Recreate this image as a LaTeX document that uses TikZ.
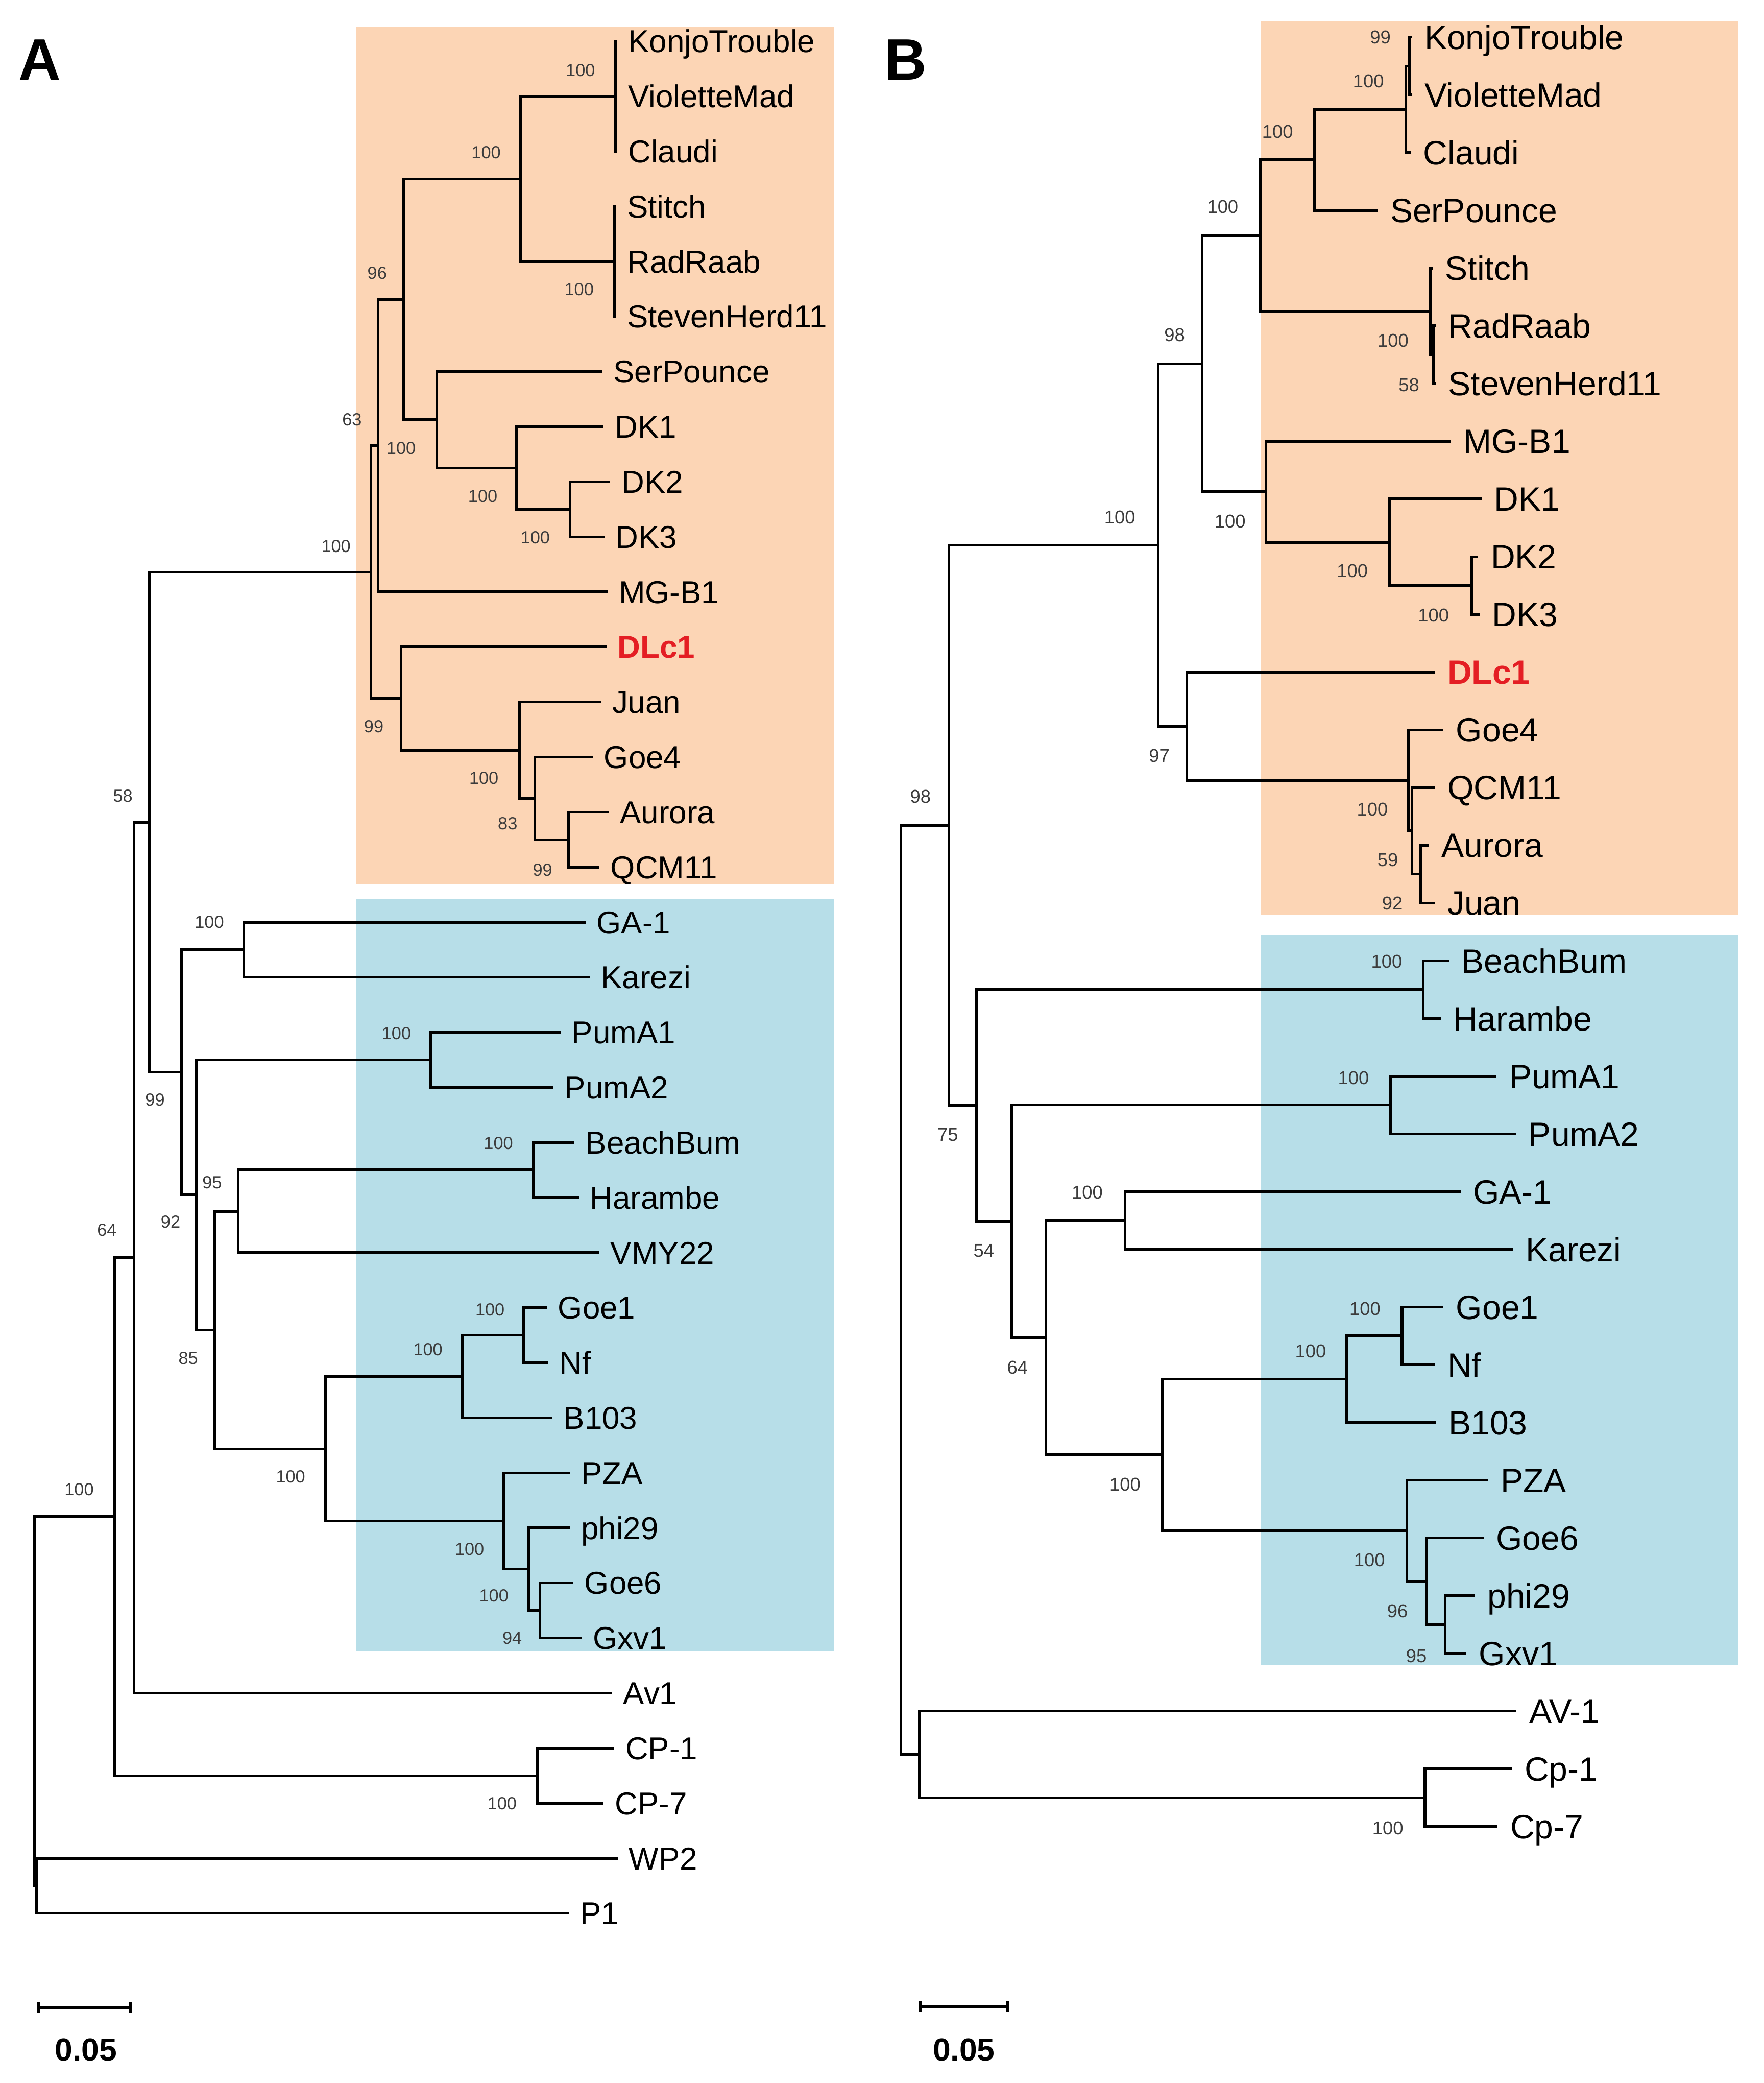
\documentclass[tikz,border=0pt]{standalone}
\usepackage{fontspec}
\setmainfont{Liberation Sans}
\usetikzlibrary{calc}
\definecolor{peach}{HTML}{FCD5B5}
\definecolor{aqua}{HTML}{B7DEE8}
\definecolor{dlred}{RGB}{228,30,36}
\definecolor{bsgray}{HTML}{3C3C3C}
\tikzset{
  br/.style={draw=black, line width=1pt, line cap=rect},
  leafA/.style={anchor=west, inner xsep=4.75pt, inner ysep=0pt, outer sep=0pt, text height=8.5pt, text depth=0pt, font=\fontsize{11.9}{12.5}\selectfont},
  leafB/.style={anchor=west, inner xsep=5.25pt, inner ysep=0pt, outer sep=0pt, text height=9.1pt, text depth=0pt, font=\fontsize{12.7}{13.5}\selectfont},
  hlA/.style={leafA, text=dlred, font=\fontsize{11.9}{12.5}\selectfont\bfseries},
  hlB/.style={leafB, text=dlred, font=\fontsize{12.7}{13.5}\selectfont\bfseries},
  bsA/.style={inner sep=0pt, text=bsgray, font=\fontsize{6.6}{7}\selectfont},
  bsB/.style={inner sep=0pt, text=bsgray, font=\fontsize{7}{8}\selectfont},
  panel/.style={inner sep=0pt, font=\fontsize{22}{24}\selectfont\bfseries},
  sclbl/.style={inner sep=0pt, font=\fontsize{12}{14}\selectfont\bfseries},
  tick/.style={draw=black, line width=1pt},
}
\begin{document}
\begin{tikzpicture}[x=0.5pt,y=-0.5pt]
\useasboundingbox (0,0) rectangle (1328,1568);
% background boxes
\fill[peach] (268,20) rectangle (628,665.5);
\fill[aqua] (268,677) rectangle (628,1243);
\fill[peach] (949,16) rectangle (1309,689);
\fill[aqua] (949,704) rectangle (1309,1253.5);
% panel letters
\node[panel] (pA) at (30,45) {A};
\node[panel] (pB) at (682,45) {B};

% ================= TREE A =================
% leaves
\node[leafA] (aLKonjo) at (463.5,31) {KonjoTrouble};
\node[leafA] (aLViol) at (463.5,72.45) {VioletteMad};
\node[leafA] (aLClaudi) at (463.5,113.9) {Claudi};
\node[leafA] (aLStitch) at (462.7,155.35) {Stitch};
\node[leafA] (aLRad) at (462.7,196.8) {RadRaab};
\node[leafA] (aLSteven) at (462.7,238.25) {StevenHerd11};
\node[leafA] (aLSer) at (452.3,279.7) {SerPounce};
\node[leafA] (aLDK1) at (453.5,321.15) {DK1};
\node[leafA] (aLDK2) at (458.5,362.6) {DK2};
\node[leafA] (aLDK3) at (454,404.05) {DK3};
\node[leafA] (aLMG) at (456.4,445.5) {MG-B1};
\node[hlA] (aLDLc1) at (455.6,486.95) {DLc1};
\node[leafA] (aLJuan) at (451.4,528.4) {Juan};
\node[leafA] (aLGoe4) at (445.2,569.85) {Goe4};
\node[leafA] (aLAurora) at (457.3,611.3) {Aurora};
\node[leafA] (aLQCM) at (450.2,652.75) {QCM11};
\node[leafA] (aLGA) at (439.8,694.2) {GA-1};
\node[leafA] (aLKarezi) at (443.1,735.65) {Karezi};
\node[leafA] (aLPumA1) at (421,777.1) {PumA1};
\node[leafA] (aLPumA2) at (415.6,818.55) {PumA2};
\node[leafA] (aLBeach) at (431.4,860) {BeachBum};
\node[leafA] (aLHar) at (434.8,901.45) {Harambe};
\node[leafA] (aLVMY) at (450.2,942.9) {VMY22};
\node[leafA] (aLGoe1) at (410.6,984.35) {Goe1};
\node[leafA] (aLNf) at (411.8,1025.8) {Nf};
\node[leafA] (aLB103) at (414.8,1067.25) {B103};
\node[leafA] (aLPZA) at (428.1,1108.7) {PZA};
\node[leafA] (aLphi) at (428.1,1150.15) {phi29};
\node[leafA] (aLGoe6) at (430.6,1191.6) {Goe6};
\node[leafA] (aLGxv) at (436.8,1233.05) {Gxv1};
\node[leafA] (aLAv1) at (459.8,1274.5) {Av1};
\node[leafA] (aLCP1) at (461.4,1315.95) {CP-1};
\node[leafA] (aLCP7) at (453.5,1357.4) {CP-7};
\node[leafA] (aLWP2) at (464,1398.85) {WP2};
\node[leafA] (aLP1) at (427.3,1440.3) {P1};
% internal nodes
\coordinate (aKVC) at (463.5,72.45);
\coordinate (aSRS) at (462.7,196.8);
\coordinate (aT) at (391.8,134.6);
\coordinate (aDK23) at (429.3,383.3);
\coordinate (aDK) at (388.9,352.2);
\coordinate (aSer) at (328.9,316.0);
\coordinate (a96) at (303.9,225.3);
\coordinate (a63) at (284.7,335.4);
\coordinate (aAQ) at (428.0,632.0);
\coordinate (a83) at (402.7,600.9);
\coordinate (aJ) at (391.0,564.7);
\coordinate (a99) at (301.8,525.8);
\coordinate (aO) at (279.3,430.6);
\coordinate (aGK) at (183.4,714.9);
\coordinate (aPum) at (324.3,797.8);
\coordinate (aBH) at (401.4,880.7);
\coordinate (a95) at (179.2,911.8);
\coordinate (aGN) at (394.3,1005.1);
\coordinate (aGNB) at (348.0,1036.2);
\coordinate (aGG) at (406.4,1212.3);
\coordinate (aPG) at (398.0,1181.2);
\coordinate (aPZ) at (379.3,1145.0);
\coordinate (a100b) at (245.1,1090.6);
\coordinate (a85) at (161.7,1001.2);
\coordinate (a92) at (148.0,899.5);
\coordinate (a99b) at (136.7,807.2);
\coordinate (aIn) at (112.5,618.9);
\coordinate (a58) at (100.9,946.7);
\coordinate (aCP) at (404.4,1336.7);
\coordinate (a64) at (86.3,1141.7);
\coordinate (aWP) at (27.5,1419.6);
\coordinate (aRoot) at (25.8,1280.6);
% branches
\draw[br] (aKVC) |- (aLKonjo.west);
\draw[br] (aKVC) |- (aLViol.west);
\draw[br] (aKVC) |- (aLClaudi.west);
\draw[br] (aSRS) |- (aLStitch.west);
\draw[br] (aSRS) |- (aLRad.west);
\draw[br] (aSRS) |- (aLSteven.west);
\draw[br] (aT) |- (aKVC);
\draw[br] (aT) |- (aSRS);
\draw[br] (aDK23) |- (aLDK2.west);
\draw[br] (aDK23) |- (aLDK3.west);
\draw[br] (aDK) |- (aLDK1.west);
\draw[br] (aDK) |- (aDK23);
\draw[br] (aSer) |- (aLSer.west);
\draw[br] (aSer) |- (aDK);
\draw[br] (a96) |- (aT);
\draw[br] (a96) |- (aSer);
\draw[br] (a63) |- (a96);
\draw[br] (a63) |- (aLMG.west);
\draw[br] (aAQ) |- (aLAurora.west);
\draw[br] (aAQ) |- (aLQCM.west);
\draw[br] (a83) |- (aLGoe4.west);
\draw[br] (a83) |- (aAQ);
\draw[br] (aJ) |- (aLJuan.west);
\draw[br] (aJ) |- (a83);
\draw[br] (a99) |- (aLDLc1.west);
\draw[br] (a99) |- (aJ);
\draw[br] (aO) |- (a63);
\draw[br] (aO) |- (a99);
\draw[br] (aGK) |- (aLGA.west);
\draw[br] (aGK) |- (aLKarezi.west);
\draw[br] (aPum) |- (aLPumA1.west);
\draw[br] (aPum) |- (aLPumA2.west);
\draw[br] (aBH) |- (aLBeach.west);
\draw[br] (aBH) |- (aLHar.west);
\draw[br] (a95) |- (aBH);
\draw[br] (a95) |- (aLVMY.west);
\draw[br] (aGN) |- (aLGoe1.west);
\draw[br] (aGN) |- (aLNf.west);
\draw[br] (aGNB) |- (aGN);
\draw[br] (aGNB) |- (aLB103.west);
\draw[br] (aGG) |- (aLGoe6.west);
\draw[br] (aGG) |- (aLGxv.west);
\draw[br] (aPG) |- (aLphi.west);
\draw[br] (aPG) |- (aGG);
\draw[br] (aPZ) |- (aLPZA.west);
\draw[br] (aPZ) |- (aPG);
\draw[br] (a100b) |- (aGNB);
\draw[br] (a100b) |- (aPZ);
\draw[br] (a85) |- (a95);
\draw[br] (a85) |- (a100b);
\draw[br] (a92) |- (aPum);
\draw[br] (a92) |- (a85);
\draw[br] (a99b) |- (aGK);
\draw[br] (a99b) |- (a92);
\draw[br] (aIn) |- (aO);
\draw[br] (aIn) |- (a99b);
\draw[br] (a58) |- (aIn);
\draw[br] (a58) |- (aLAv1.west);
\draw[br] (aCP) |- (aLCP1.west);
\draw[br] (aCP) |- (aLCP7.west);
\draw[br] (a64) |- (a58);
\draw[br] (a64) |- (aCP);
\draw[br] (aWP) |- (aLWP2.west);
\draw[br] (aWP) |- (aLP1.west);
\draw[br] (aRoot) |- (a64);
\draw[br] (aRoot) |- (aWP);
% bootstrap values A
\node[bsA] (bsa1) at (437,53) {100};
\node[bsA] (bsa2) at (366,115) {100};
\node[bsA] (bsa3) at (436,218) {100};
\node[bsA] (bsa4) at (284,205.5) {96};
\node[bsA] (bsa5) at (265,316) {63};
\node[bsA] (bsa6) at (302,337.5) {100};
\node[bsA] (bsa7) at (363.5,373.6) {100};
\node[bsA] (bsa8) at (403,404.6) {100};
\node[bsA] (bsa9) at (253,411) {100};
\node[bsA] (bsa10) at (281.4,547) {99};
\node[bsA] (bsa11) at (364.3,585.8) {100};
\node[bsA] (bsa12) at (382.2,620) {83};
\node[bsA] (bsa13) at (408.5,655) {99};
\node[bsA] (bsa14) at (157.6,694) {100};
\node[bsA] (bsa15) at (92.5,599) {58};
\node[bsA] (bsa16) at (116.7,828) {99};
\node[bsA] (bsa17) at (298.5,778) {100};
\node[bsA] (bsa18) at (128.4,919.7) {92};
\node[bsA] (bsa19) at (159.7,890) {95};
\node[bsA] (bsa20) at (375.2,860.4) {100};
\node[bsA] (bsa21) at (141.7,1022.2) {85};
\node[bsA] (bsa22) at (368.9,985.7) {100};
\node[bsA] (bsa23) at (322.2,1015.7) {100};
\node[bsA] (bsa24) at (218.8,1111.7) {100};
\node[bsA] (bsa25) at (353.5,1166.3) {100};
\node[bsA] (bsa26) at (371.8,1201.2) {100};
\node[bsA] (bsa27) at (385.6,1233) {94};
\node[bsA] (bsa28) at (80.5,926) {64};
\node[bsA] (bsa29) at (59.6,1121.2) {100};
\node[bsA] (bsa30) at (378,1357.5) {100};
% scale bar A
\coordinate (sA1) at (29.2,1511.4);
\coordinate (sA2) at (98.4,1511.4);
\draw[tick] (sA1) -- (sA2);
\draw[tick] ($(sA1)+(0,-4)$) -- ($(sA1)+(0,4)$);
\draw[tick] ($(sA2)+(0,-4)$) -- ($(sA2)+(0,4)$);
\node[sclbl] (sAt) at (64.6,1543) {0.05};

% ================= TREE B =================
\node[leafB] (bLKonjo) at (1062,28) {KonjoTrouble};
\node[leafB] (bLViol) at (1062,71.45) {VioletteMad};
\node[leafB] (bLClaudi) at (1061.2,114.9) {Claudi};
\node[leafB] (bLSer) at (1036.3,158.35) {SerPounce};
\node[leafB] (bLStitch) at (1077.6,201.8) {Stitch};
\node[leafB] (bLRad) at (1080,245.25) {RadRaab};
\node[leafB] (bLSteven) at (1080,288.7) {StevenHerd11};
\node[leafB] (bLMG) at (1091.4,332.15) {MG-B1};
\node[leafB] (bLDK1) at (1114.6,375.6) {DK1};
\node[leafB] (bLDK2) at (1112,419.05) {DK2};
\node[leafB] (bLDK3) at (1113,462.5) {DK3};
\node[hlB] (bLDLc1) at (1079.3,505.95) {DLc1};
\node[leafB] (bLGoe4) at (1085.8,549.4) {Goe4};
\node[leafB] (bLQCM) at (1079.3,592.85) {QCM11};
\node[leafB] (bLAurora) at (1075,636.3) {Aurora};
\node[leafB] (bLJuan) at (1079.3,679.75) {Juan};
\node[leafB] (bLBeach) at (1090,723.2) {BeachBum};
\node[leafB] (bLHar) at (1083.6,766.65) {Harambe};
\node[leafB] (bLPumA1) at (1125.8,810.1) {PumA1};
\node[leafB] (bLPumA2) at (1140.4,853.55) {PumA2};
\node[leafB] (bLGA) at (1098.7,897) {GA-1};
\node[leafB] (bLKarezi) at (1138.2,940.45) {Karezi};
\node[leafB] (bLGoe1) at (1085.8,983.9) {Goe1};
\node[leafB] (bLNf) at (1079.3,1027.35) {Nf};
\node[leafB] (bLB103) at (1080.2,1070.8) {B103};
\node[leafB] (bLPZA) at (1119.3,1114.25) {PZA};
\node[leafB] (bLGoe6) at (1115.9,1157.7) {Goe6};
\node[leafB] (bLphi) at (1109.4,1201.15) {phi29};
\node[leafB] (bLGxv) at (1103,1244.6) {Gxv1};
\node[leafB] (bLAV) at (1140.8,1288.05) {AV-1};
\node[leafB] (bLCp1) at (1137.4,1331.5) {Cp-1};
\node[leafB] (bLCp7) at (1126.6,1374.95) {Cp-7};
% internal nodes
\coordinate (bKV) at (1061.2,49.7);
\coordinate (bKVC) at (1058.6,82.3);
\coordinate (bS1) at (989.8,120.3);
\coordinate (bRS) at (1079.3,267.0);
\coordinate (bSt) at (1077.1,234.4);
\coordinate (bA) at (948.9,177.4);
\coordinate (bDK23) at (1108.1,440.8);
\coordinate (bDK) at (1046.2,408.2);
\coordinate (bMG) at (953.2,370.2);
\coordinate (bB) at (905.1,273.8);
\coordinate (bAJ) at (1069.8,658.0);
\coordinate (bQ) at (1063.0,625.4);
\coordinate (bG4) at (1060.4,587.4);
\coordinate (bDL) at (893.5,546.7);
\coordinate (bN) at (871.9,410.3);
\coordinate (bBH) at (1071.6,744.9);
\coordinate (bPum) at (1047.0,831.8);
\coordinate (bGK) at (847.0,918.7);
\coordinate (bGN) at (1055.6,1005.6);
\coordinate (bGNB) at (1013.9,1038.2);
\coordinate (bPG) at (1087.9,1222.9);
\coordinate (bG6) at (1073.7,1190.3);
\coordinate (bPZ) at (1059.1,1152.3);
\coordinate (b100) at (875.0,1095.2);
\coordinate (b64) at (787.6,1007.0);
\coordinate (b54) at (761.8,919.4);
\coordinate (b75) at (735.1,832.2);
\coordinate (bIn) at (714.5,621.2);
\coordinate (bCp) at (1072.9,1353.2);
\coordinate (bAV) at (692.1,1320.6);
\coordinate (bRoot) at (678.4,970.9);
% branches
\draw[br] (bKV) |- (bLKonjo.west);
\draw[br] (bKV) |- (bLViol.west);
\draw[br] (bKVC) |- (bKV);
\draw[br] (bKVC) |- (bLClaudi.west);
\draw[br] (bS1) |- (bKVC);
\draw[br] (bS1) |- (bLSer.west);
\draw[br] (bRS) |- (bLRad.west);
\draw[br] (bRS) |- (bLSteven.west);
\draw[br] (bSt) |- (bLStitch.west);
\draw[br] (bSt) |- (bRS);
\draw[br] (bA) |- (bS1);
\draw[br] (bA) |- (bSt);
\draw[br] (bDK23) |- (bLDK2.west);
\draw[br] (bDK23) |- (bLDK3.west);
\draw[br] (bDK) |- (bLDK1.west);
\draw[br] (bDK) |- (bDK23);
\draw[br] (bMG) |- (bLMG.west);
\draw[br] (bMG) |- (bDK);
\draw[br] (bB) |- (bA);
\draw[br] (bB) |- (bMG);
\draw[br] (bAJ) |- (bLAurora.west);
\draw[br] (bAJ) |- (bLJuan.west);
\draw[br] (bQ) |- (bLQCM.west);
\draw[br] (bQ) |- (bAJ);
\draw[br] (bG4) |- (bLGoe4.west);
\draw[br] (bG4) |- (bQ);
\draw[br] (bDL) |- (bLDLc1.west);
\draw[br] (bDL) |- (bG4);
\draw[br] (bN) |- (bB);
\draw[br] (bN) |- (bDL);
\draw[br] (bBH) |- (bLBeach.west);
\draw[br] (bBH) |- (bLHar.west);
\draw[br] (bPum) |- (bLPumA1.west);
\draw[br] (bPum) |- (bLPumA2.west);
\draw[br] (bGK) |- (bLGA.west);
\draw[br] (bGK) |- (bLKarezi.west);
\draw[br] (bGN) |- (bLGoe1.west);
\draw[br] (bGN) |- (bLNf.west);
\draw[br] (bGNB) |- (bGN);
\draw[br] (bGNB) |- (bLB103.west);
\draw[br] (bPG) |- (bLphi.west);
\draw[br] (bPG) |- (bLGxv.west);
\draw[br] (bG6) |- (bLGoe6.west);
\draw[br] (bG6) |- (bPG);
\draw[br] (bPZ) |- (bLPZA.west);
\draw[br] (bPZ) |- (bG6);
\draw[br] (b100) |- (bGNB);
\draw[br] (b100) |- (bPZ);
\draw[br] (b64) |- (bGK);
\draw[br] (b64) |- (b100);
\draw[br] (b54) |- (bPum);
\draw[br] (b54) |- (b64);
\draw[br] (b75) |- (bBH);
\draw[br] (b75) |- (b54);
\draw[br] (bIn) |- (bN);
\draw[br] (bIn) |- (b75);
\draw[br] (bCp) |- (bLCp1.west);
\draw[br] (bCp) |- (bLCp7.west);
\draw[br] (bAV) |- (bLAV.west);
\draw[br] (bAV) |- (bCp);
\draw[br] (bRoot) |- (bIn);
\draw[br] (bRoot) |- (bAV);
% bootstrap values B
\node[bsB] (bsb1) at (1039.3,28.2) {99};
\node[bsB] (bsb2) at (1030.3,61.2) {100};
\node[bsB] (bsb3) at (961.9,99.2) {100};
\node[bsB] (bsb4) at (920.6,155.6) {100};
\node[bsB] (bsb5) at (1048.8,256.5) {100};
\node[bsB] (bsb6) at (1060.8,289.8) {58};
\node[bsB] (bsb7) at (884.4,252.3) {98};
\node[bsB] (bsb8) at (843.1,389.3) {100};
\node[bsB] (bsb9) at (926.1,392.4) {100};
\node[bsB] (bsb10) at (1018.2,429.9) {100};
\node[bsB] (bsb11) at (1079.3,463.1) {100};
\node[bsB] (bsb12) at (872.8,568.8) {97};
\node[bsB] (bsb13) at (1033.3,609.4) {100};
\node[bsB] (bsb14) at (1044.9,647.5) {59};
\node[bsB] (bsb15) at (1048.3,679.9) {92};
\node[bsB] (bsb16) at (693,599.8) {98};
\node[bsB] (bsb17) at (1044,723.9) {100};
\node[bsB] (bsb18) at (713.6,854.2) {75};
\node[bsB] (bsb19) at (1019.1,811.3) {100};
\node[bsB] (bsb20) at (740.7,941.3) {54};
\node[bsB] (bsb21) at (818.6,897.6) {100};
\node[bsB] (bsb22) at (766.1,1029.5) {64};
\node[bsB] (bsb23) at (847,1117.4) {100};
\node[bsB] (bsb24) at (986.8,1017.3) {100};
\node[bsB] (bsb25) at (1027.7,985.3) {100};
\node[bsB] (bsb26) at (1031.1,1174.5) {100};
\node[bsB] (bsb27) at (1052.2,1212.8) {96};
\node[bsB] (bsb28) at (1066.4,1246.5) {95};
\node[bsB] (bsb29) at (1044.9,1376.3) {100};
% scale bar B
\coordinate (sB1) at (693,1510.4);
\coordinate (sB2) at (758.8,1510.4);
\draw[tick] (sB1) -- (sB2);
\draw[tick] ($(sB1)+(0,-4)$) -- ($(sB1)+(0,4)$);
\draw[tick] ($(sB2)+(0,-4)$) -- ($(sB2)+(0,4)$);
\node[sclbl] (sBt) at (725.7,1543) {0.05};
\end{tikzpicture}
\end{document}
